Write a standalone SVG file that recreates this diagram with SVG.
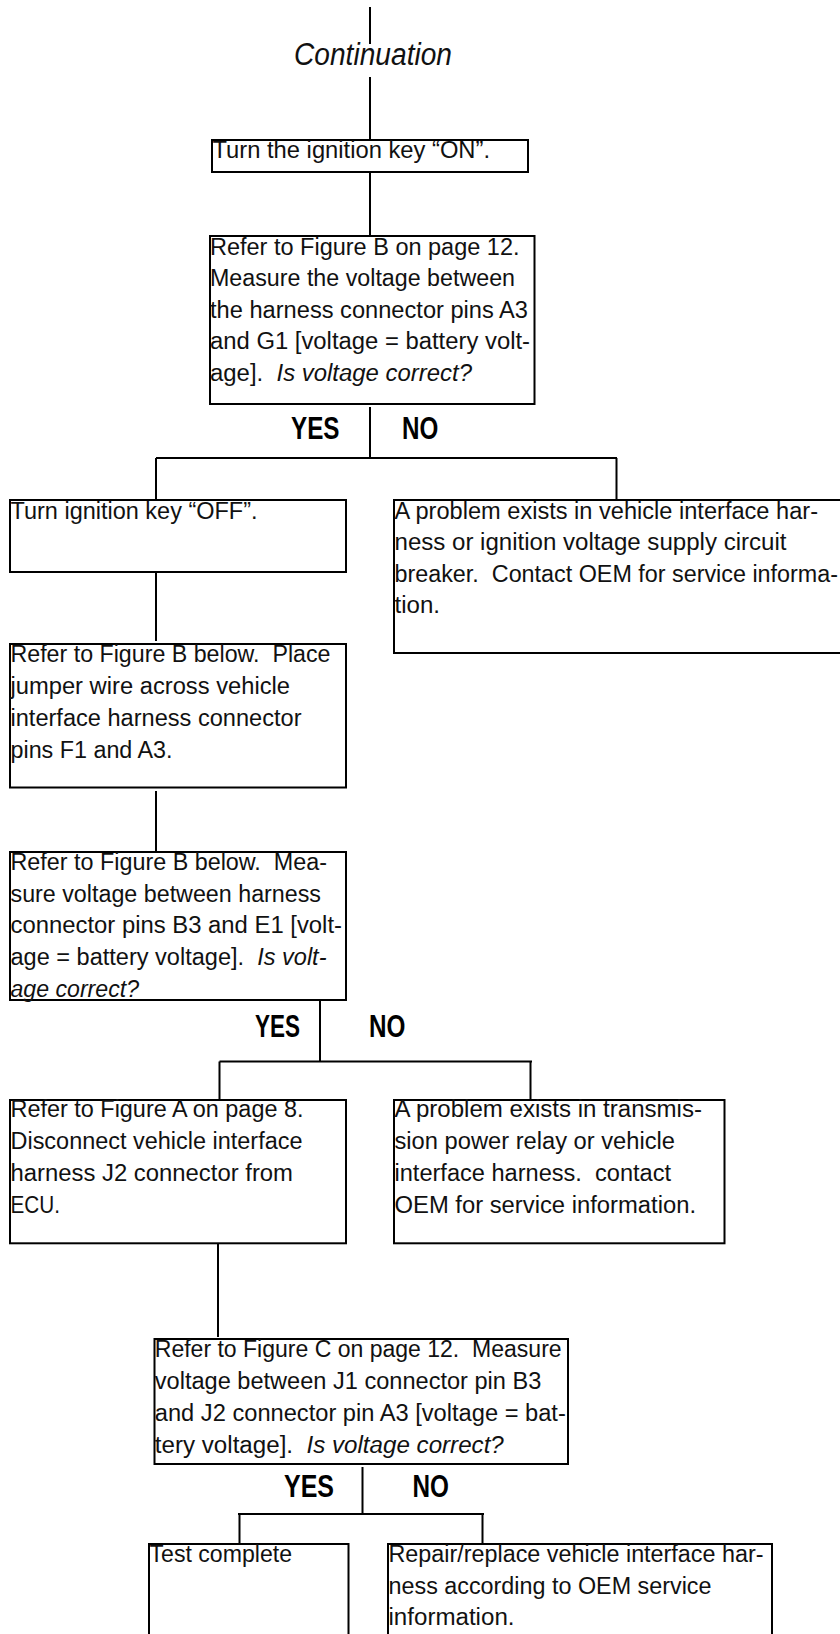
<svg xmlns="http://www.w3.org/2000/svg" width="840" height="1634" viewBox="0 0 840 1634">
<style>
.box{fill:none;stroke:#000;stroke-width:2}
.ln{fill:none;stroke:#000;stroke-width:2}
.t{font-family:"Liberation Sans",Arial,sans-serif;font-size:23px;fill:#111;white-space:pre}
.i{font-style:italic}
.yn{font-family:"Liberation Sans",Arial,sans-serif;font-size:31px;font-weight:bold;fill:#000}
.cont{font-family:"Liberation Sans",Arial,sans-serif;font-size:31px;font-style:italic;fill:#111}
</style>
<rect width="840" height="1634" fill="#fff"/>
<g id="connectors">
<path class="ln" d="M370,7 V44 M370,77 V140 M370,172 V236"/>
<path class="ln" d="M370,407 V459 M156,458 H617 M156,458 V500 M616.5,458 V500"/>
<path class="ln" d="M156,572 V641 M156,791 V852"/>
<path class="ln" d="M320,1000 V1062 M219.5,1061.5 H532 M219.5,1061.5 V1100 M530.5,1061.5 V1100"/>
<path class="ln" d="M218,1243 V1337"/>
<path class="ln" d="M362.5,1467 V1514 M238,1514 H484 M239.5,1514 V1544 M482.5,1514 V1544"/>
</g>
<g id="labels">
<text class="cont" x="294" y="65" textLength="158" lengthAdjust="spacingAndGlyphs">Continuation</text>
<text class="yn" x="291" y="439" textLength="48.5" lengthAdjust="spacingAndGlyphs">YES</text>
<text class="yn" x="402" y="439" textLength="36.3" lengthAdjust="spacingAndGlyphs">NO</text>
<text class="yn" x="255" y="1036.5" textLength="45" lengthAdjust="spacingAndGlyphs">YES</text>
<text class="yn" x="369" y="1036.5" textLength="36.4" lengthAdjust="spacingAndGlyphs">NO</text>
<text class="yn" x="284" y="1497" textLength="50" lengthAdjust="spacingAndGlyphs">YES</text>
<text class="yn" x="412.6" y="1497" textLength="36.4" lengthAdjust="spacingAndGlyphs">NO</text>
</g>
<g id="n1">
<rect class="box" x="212" y="140" width="316" height="32"/>
<text class="t" x="212.5" y="158" textLength="277.5" lengthAdjust="spacingAndGlyphs">Turn the ignition key “ON”.</text>
</g>
<g id="n2">
<rect class="box" x="210" y="236" width="324.5" height="168"/>
<text class="t" x="210" y="254.5" textLength="309.5" lengthAdjust="spacingAndGlyphs">Refer to Figure B on page 12.</text>
<text class="t" x="210" y="286" textLength="305" lengthAdjust="spacingAndGlyphs">Measure the voltage between</text>
<text class="t" x="210" y="317.5" textLength="318" lengthAdjust="spacingAndGlyphs">the harness connector pins A3</text>
<text class="t" x="210" y="349" textLength="320" lengthAdjust="spacingAndGlyphs">and G1 [voltage = battery volt-</text>
<text class="t" x="210" y="380.5" textLength="262" lengthAdjust="spacingAndGlyphs">age].  <tspan class="i">Is voltage correct?</tspan></text>
</g>
<g id="n3">
<rect class="box" x="10" y="500" width="336" height="72"/>
<text class="t" x="10.5" y="518.5" textLength="247" lengthAdjust="spacingAndGlyphs">Turn ignition key “OFF”.</text>
</g>
<g id="n4">
<rect class="box" x="394" y="500" width="460" height="153"/>
<text class="t" x="394.5" y="518.5" textLength="423.5" lengthAdjust="spacingAndGlyphs">A problem exists in vehicle interface har-</text>
<text class="t" x="394.5" y="550" textLength="392" lengthAdjust="spacingAndGlyphs">ness or ignition voltage supply circuit</text>
<text class="t" x="394.5" y="581.7" textLength="443.5" lengthAdjust="spacingAndGlyphs">breaker.  Contact OEM for service informa-</text>
<text class="t" x="394.5" y="613.3" textLength="45.5" lengthAdjust="spacingAndGlyphs">tion.</text>
</g>
<g id="n5">
<rect class="box" x="10" y="644" width="336" height="143.5"/>
<text class="t" x="10.5" y="662" textLength="320" lengthAdjust="spacingAndGlyphs">Refer to Figure B below.  Place</text>
<text class="t" x="10.5" y="694" textLength="279.5" lengthAdjust="spacingAndGlyphs">jumper wire across vehicle</text>
<text class="t" x="10.5" y="726" textLength="291" lengthAdjust="spacingAndGlyphs">interface harness connector</text>
<text class="t" x="10.5" y="758" textLength="162" lengthAdjust="spacingAndGlyphs">pins F1 and A3.</text>
</g>
<g id="n6">
<rect class="box" x="10" y="852" width="336" height="148"/>
<text class="t" x="10.5" y="870" textLength="316.5" lengthAdjust="spacingAndGlyphs">Refer to Figure B below.  Mea-</text>
<text class="t" x="10.5" y="901.7" textLength="310.5" lengthAdjust="spacingAndGlyphs">sure voltage between harness</text>
<text class="t" x="10.5" y="933.4" textLength="331.5" lengthAdjust="spacingAndGlyphs">connector pins B3 and E1 [volt-</text>
<text class="t" x="10.5" y="965.1" textLength="316" lengthAdjust="spacingAndGlyphs">age = battery voltage].  <tspan class="i">Is volt-</tspan></text>
<text class="t i" x="10.5" y="996.8" textLength="128.5" lengthAdjust="spacingAndGlyphs">age correct?</text>
</g>
<g id="n7">
<rect class="box" x="10" y="1100" width="336" height="143.3"/>
<text class="t" x="10.5" y="1117" textLength="293" lengthAdjust="spacingAndGlyphs">Refer to Figure A on page 8.</text>
<text class="t" x="10.5" y="1149" textLength="292" lengthAdjust="spacingAndGlyphs">Disconnect vehicle interface</text>
<text class="t" x="10.5" y="1181" textLength="282.5" lengthAdjust="spacingAndGlyphs">harness J2 connector from</text>
<text class="t" x="10.5" y="1213" textLength="49.5" lengthAdjust="spacingAndGlyphs">ECU.</text>
</g>
<g id="n8">
<rect class="box" x="394" y="1100" width="330.5" height="143.3"/>
<text class="t" x="394.5" y="1117" textLength="307.5" lengthAdjust="spacingAndGlyphs">A problem exists in transmis-</text>
<text class="t" x="394.5" y="1149" textLength="280.5" lengthAdjust="spacingAndGlyphs">sion power relay or vehicle</text>
<text class="t" x="394.5" y="1181" textLength="276.5" lengthAdjust="spacingAndGlyphs">interface harness.  contact</text>
<text class="t" x="394.5" y="1213" textLength="301.5" lengthAdjust="spacingAndGlyphs">OEM for service information.</text>
</g>
<g id="n9">
<rect class="box" x="154.5" y="1339" width="413.5" height="125"/>
<text class="t" x="154.8" y="1357" textLength="406.8" lengthAdjust="spacingAndGlyphs">Refer to Figure C on page 12.  Measure</text>
<text class="t" x="154.8" y="1389" textLength="386.5" lengthAdjust="spacingAndGlyphs">voltage between J1 connector pin B3</text>
<text class="t" x="154.8" y="1421" textLength="411" lengthAdjust="spacingAndGlyphs">and J2 connector pin A3 [voltage = bat-</text>
<text class="t" x="154.8" y="1453" textLength="349" lengthAdjust="spacingAndGlyphs">tery voltage].  <tspan class="i">Is voltage correct?</tspan></text>
</g>
<g id="n10">
<rect class="box" x="149" y="1544" width="199.5" height="120"/>
<text class="t" x="149.5" y="1562" textLength="142.5" lengthAdjust="spacingAndGlyphs">Test complete</text>
</g>
<g id="n11">
<rect class="box" x="388" y="1544" width="384" height="120"/>
<text class="t" x="388.5" y="1562" textLength="375" lengthAdjust="spacingAndGlyphs">Repair/replace vehicle interface har-</text>
<text class="t" x="388.5" y="1593.5" textLength="323" lengthAdjust="spacingAndGlyphs">ness according to OEM service</text>
<text class="t" x="388.5" y="1625" textLength="126" lengthAdjust="spacingAndGlyphs">information.</text>
</g>
</svg>
